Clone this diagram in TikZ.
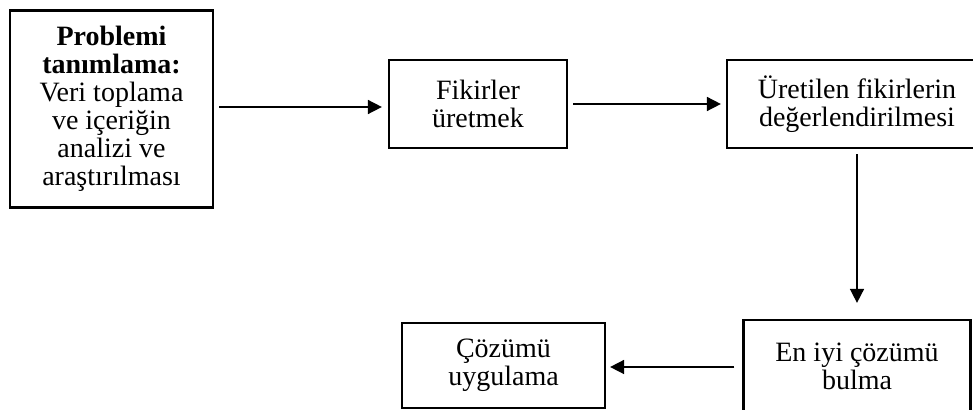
\documentclass[tikz,border=0pt]{standalone}
\usepackage{fontspec}
\setmainfont{Liberation Serif}
\usetikzlibrary{arrows.meta}

\begin{document}
\begin{tikzpicture}[x=0.5pt,y=-0.5pt,>={Triangle[length=7pt,width=7pt]},
    stepbox/.style={draw,line width=1.1pt,align=center,inner sep=0pt,font=\fontsize{14}{14}\selectfont},
    flow/.style={->,line width=0.8pt}]
    \useasboundingbox (0,0) rectangle (973,410);
    \clip (0,0) rectangle (973,410);

    \coordinate (problemPos) at (111.5,109);
    \coordinate (fikirPos) at (478,104);
    \coordinate (degerPos) at (857,104);
    \coordinate (bulmaPos) at (857,366);
    \coordinate (uygulaPos) at (503.5,365.5);

    \node[stepbox,minimum width=101.5pt,minimum height=98.5pt] (problem) at (problemPos)
        {\textbf{Problemi}\\\textbf{tanımlama:}\\Veri toplama\\ve içeriğin\\analizi ve\\araştırılması};
    \node[stepbox,minimum width=89pt,minimum height=44pt] (fikir) at (fikirPos) {Fikirler\\üretmek};
    \node[stepbox,minimum width=130pt,minimum height=44pt] (deger) at (degerPos) {Üretilen fikirlerin\\değerlendirilmesi};
    \node[stepbox,minimum width=113.5pt,minimum height=46pt] (bulma) at (bulmaPos) {En iyi çözümü\\bulma};
    \node[stepbox,minimum width=101.5pt,minimum height=42.5pt] (uygula) at (uygulaPos) {Çözümü\\uygulama};

    \draw[flow,shorten <=2.5pt,shorten >=3pt] (problem.east |- 0,107) -- (fikir.west |- 0,107);
    \draw[flow,shorten <=2.5pt,shorten >=2.5pt] (fikir) -- (deger);
    \draw[flow,shorten <=2.5pt,shorten >=8pt] (deger) -- (bulma.north);
    \draw[flow,shorten <=4pt,shorten >=2pt] (bulma.west |- 0,367) -- (uygula.east |- 0,367);

  \end{tikzpicture}
\end{document}
